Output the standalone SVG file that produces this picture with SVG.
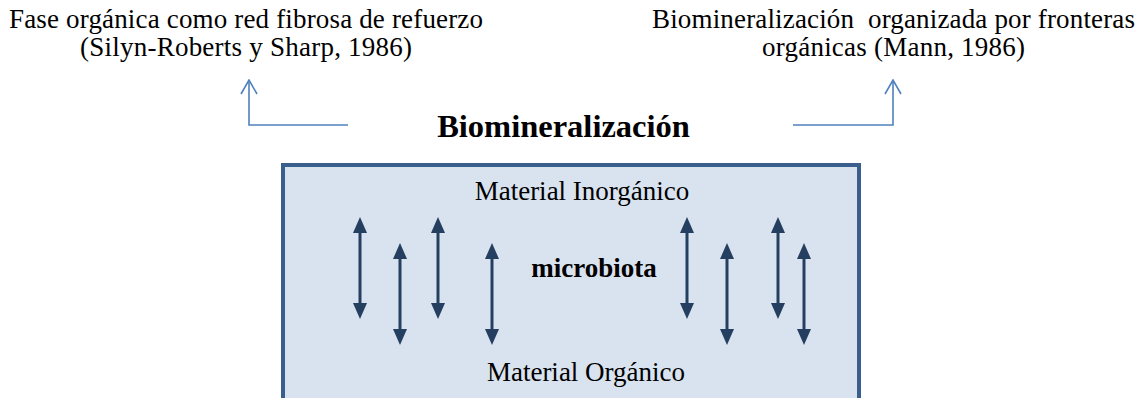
<svg xmlns="http://www.w3.org/2000/svg" width="1143" height="398" viewBox="0 0 1143 398">
<defs>
<style>
.t{font-family:"Liberation Serif","Times New Roman",serif;fill:#000;}
.n{font-size:27px;}
.b{font-weight:bold;}
.blue{fill:none;stroke:#4f81bd;stroke-width:1.6;}
.dk{stroke:#243f60;stroke-width:3;}
</style>
<marker id="open" viewBox="0 0 16 18" refX="15" refY="9" markerWidth="16" markerHeight="18" markerUnits="userSpaceOnUse" orient="auto-start-reverse">
<path d="M1,1 L15,9 L1,17" fill="none" stroke="#4f81bd" stroke-width="1.6"/>
</marker>
<marker id="ah" viewBox="0 0 16 14" refX="4" refY="7" markerWidth="16" markerHeight="14" markerUnits="userSpaceOnUse" orient="auto-start-reverse">
<path d="M0,0 L16,7 L0,14 Z" fill="#243f60"/>
</marker>
</defs>
<rect width="1143" height="398" fill="#fff"/>
<g id="label-left">
<text class="t n" x="246" y="28" text-anchor="middle" textLength="474" lengthAdjust="spacing">Fase orgánica como red fibrosa de refuerzo</text>
<text class="t n" x="246" y="56" text-anchor="middle" textLength="332" lengthAdjust="spacing">(Silyn-Roberts y Sharp, 1986)</text>
</g>
<g id="label-right">
<text class="t n" x="893.5" y="28" text-anchor="middle" textLength="483" lengthAdjust="spacing" xml:space="preserve">Biomineralización  organizada por fronteras</text>
<text class="t n" x="893.5" y="56" text-anchor="middle" textLength="263" lengthAdjust="spacing">orgánicas (Mann, 1986)</text>
</g>
<g id="title">
<text class="t b" x="563.5" y="137" font-size="32.5" text-anchor="middle">Biomineralización</text>
</g>
<g id="box">
<rect x="283" y="165" width="576" height="240" fill="#d9e3ef" stroke="#3a5f8c" stroke-width="4"/>
<text class="t n" x="582" y="200" text-anchor="middle">Material Inorgánico</text>
<text class="t n b" x="594" y="277" text-anchor="middle">microbiota</text>
<text class="t n" x="586" y="381" text-anchor="middle">Material Orgánico</text>
</g>
<g id="connectors">
<polyline class="blue" points="348,125 249,125 249,80" marker-end="url(#open)"/>
<polyline class="blue" points="793,125 893,125 893,80" marker-end="url(#open)"/>
<line class="dk" x1="360" y1="229" x2="360" y2="307" marker-start="url(#ah)" marker-end="url(#ah)"/>
<line class="dk" x1="400" y1="255" x2="400" y2="333" marker-start="url(#ah)" marker-end="url(#ah)"/>
<line class="dk" x1="438" y1="229" x2="438" y2="307" marker-start="url(#ah)" marker-end="url(#ah)"/>
<line class="dk" x1="492" y1="255" x2="492" y2="333" marker-start="url(#ah)" marker-end="url(#ah)"/>
<line class="dk" x1="687" y1="229" x2="687" y2="307" marker-start="url(#ah)" marker-end="url(#ah)"/>
<line class="dk" x1="727" y1="255" x2="727" y2="333" marker-start="url(#ah)" marker-end="url(#ah)"/>
<line class="dk" x1="778" y1="229" x2="778" y2="307" marker-start="url(#ah)" marker-end="url(#ah)"/>
<line class="dk" x1="804" y1="255" x2="804" y2="333" marker-start="url(#ah)" marker-end="url(#ah)"/>
</g>
</svg>
